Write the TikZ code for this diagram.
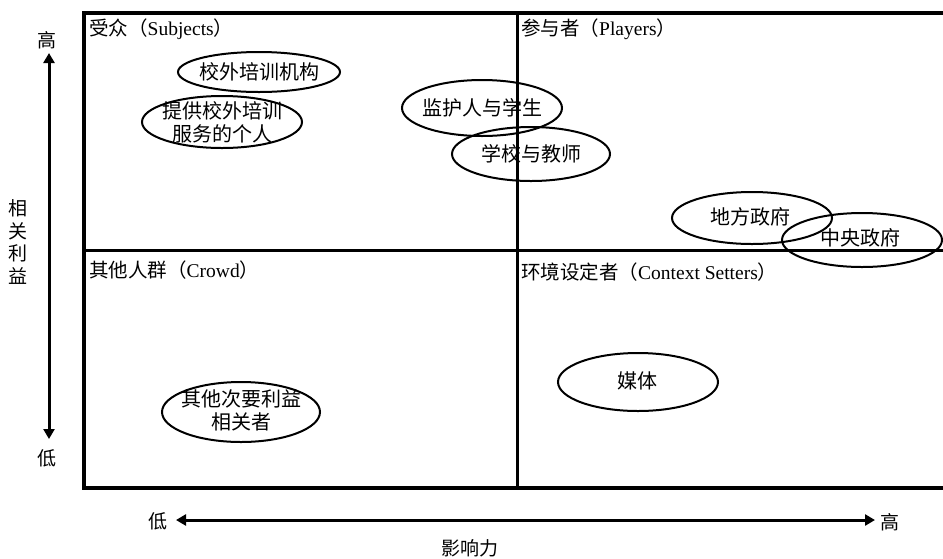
\documentclass[tikz,border=0pt]{standalone}
\usepackage{fontspec}
\setmainfont{Liberation Serif}
\newfontfamily\cjk{Noto Sans CJK SC}
\usetikzlibrary{arrows.meta}
\begin{document}
\begin{tikzpicture}[x=1pt,y=-1pt,
  txt/.style={font=\fontsize{19}{22}\selectfont\cjk, inner sep=0pt},
  qlabel/.style={font=\fontsize{19.5}{23}\selectfont, anchor=west, inner sep=0pt},
  stake/.style={inner sep=0pt, align=center, font=\fontsize{20}{23}\selectfont\cjk},
  ell/.style={line width=2pt},
  axisarrow/.style={line width=3pt, {Triangle[length=10pt,width=11pt]}-{Triangle[length=10pt,width=11pt]}},
  frameline/.style={line width=4pt},
  midline/.style={line width=3pt}]
\useasboundingbox (0,0) rectangle (943,558);
\fill[white] (0,0) rectangle (943,558);
% frame
\draw[frameline] (943,13) -- (84,13) -- (84,488) -- (943,488);
\draw[midline] (517,13) -- (517,488);
\draw[midline] (84,250) -- (943,250);
% quadrant labels
\node[qlabel] (q1) at (89,29) {{\cjk 受众（}Subjects{\cjk ）}};
\node[qlabel] (q2) at (521,29) {{\cjk 参与者（}Players{\cjk ）}};
\node[qlabel] (q3) at (89,270) {{\cjk 其他人群（}Crowd{\cjk ）}};
\node[qlabel] (q4) at (521,272) {{\cjk 环境设定者（}Context Setters{\cjk ）}};
% ellipses
\node[stake] (e1) at (259,72) {校外培训机构};
\draw[ell] (e1.center) ellipse [x radius=81pt, y radius=20pt];
\node[stake] (e2) at (222,122) {提供校外培训\\服务的个人};
\draw[ell] (e2.center) ellipse [x radius=80pt, y radius=26pt];
\node[stake] (e3) at (482,108) {监护人与学生};
\draw[ell] (e3.center) ellipse [x radius=80pt, y radius=28pt];
\node[stake] (e4) at (531,154) {学校与教师};
\draw[ell] (e4.center) ellipse [x radius=79pt, y radius=27pt];
\node[stake] (e5) at (750,217) {地方政府};
\draw[ell] (752,218) ellipse [x radius=80pt, y radius=26pt];
\node[stake] (e6) at (860,238) {中央政府};
\draw[ell] (862,240) ellipse [x radius=80pt, y radius=27pt];
\node[stake] (e7) at (241,410) {其他次要利益\\相关者};
\draw[ell] (241,412) ellipse [x radius=79pt, y radius=30pt];
\node[stake] (e8) at (637,381) {媒体};
\draw[ell] (638,382) ellipse [x radius=80pt, y radius=29pt];
% vertical axis
\node[txt] (vhi) at (47,40) {高};
\node[txt] (vlo) at (47,458) {低};
\node[txt, align=center, font=\fontsize{19}{22.5}\selectfont\cjk] (vlab) at (18,242) {相\\关\\利\\益};
\coordinate (vtop) at (49,53);
\coordinate (vbot) at (49,439);
\draw[axisarrow] (vtop) -- (vbot);
% horizontal axis
\node[txt] (hlo) at (158,521) {低};
\node[txt] (hhi) at (890,522) {高};
\node[txt] (hlab) at (470,548) {影响力};
\coordinate (hl) at (176,520);
\coordinate (hr) at (875,520);
\draw[axisarrow] (hl) -- (hr);
\end{tikzpicture}
\end{document}
